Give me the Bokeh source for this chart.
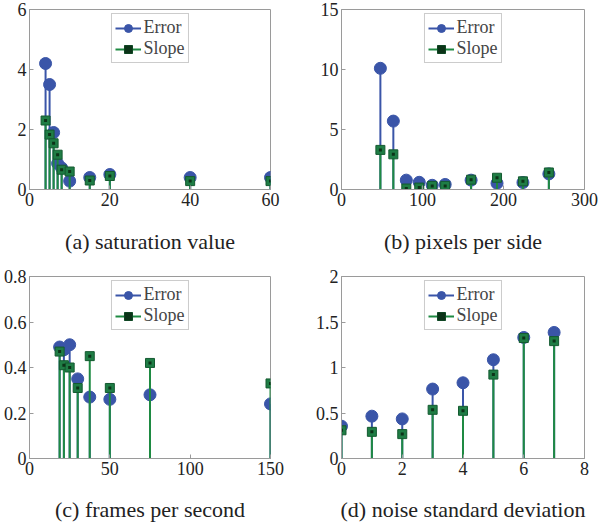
from bokeh.plotting import figure
from bokeh.layouts import gridplot
from bokeh.models import ColumnDataSource, Legend, LegendItem, FixedTicker, Range1d
from bokeh.embed import file_html
from bokeh.resources import INLINE

# ---- data ----
sat_x = [4, 5, 6, 7, 8, 10, 15, 20, 40, 60]
sat_err = [4.2, 3.5, 1.9, 0.87, 0.72, 0.28, 0.4, 0.5, 0.4, 0.4]
sat_slope = [2.3, 1.83, 1.54, 1.16, 0.66, 0.6, 0.3, 0.45, 0.28, 0.28]

pix_x = [48, 64, 80, 96, 112, 128, 160, 192, 224, 256]
pix_err = [10.1, 5.7, 0.78, 0.6, 0.35, 0.42, 0.78, 0.52, 0.58, 1.3]
pix_slope = [3.3, 2.93, 0.08, 0.16, 0.3, 0.3, 0.82, 0.98, 0.68, 1.42]

fps_x = [18.75, 21.4, 25, 30, 37.5, 50, 75, 150]
fps_err = [0.49, 0.478, 0.5, 0.35, 0.27, 0.26, 0.28, 0.24]
fps_slope = [0.47, 0.41, 0.40, 0.31, 0.45, 0.31, 0.42, 0.33]

noise_x = [0, 1, 2, 3, 4, 5, 6, 7]
noise_err = [0.355, 0.465, 0.435, 0.763, 0.832, 1.085, 1.33, 1.385]
noise_slope = [0.31, 0.293, 0.268, 0.535, 0.524, 0.922, 1.324, 1.29]

titles = ["(a) saturation value", "(b) pixels per side",
          "(c) frames per second", "(d) noise standard deviation"]

x_ticks = [[0, 20, 40, 60], [0, 100, 200, 300], [0, 50, 100, 150], [0, 2, 4, 6, 8]]
x_labels = [["0", "20", "40", "60"], ["0", "100", "200", "300"],
            ["0", "50", "100", "150"], ["0", "2", "4", "6", "8"]]
y_ticks = [[0, 2, 4, 6], [0, 5, 10, 15], [0, 0.2, 0.4, 0.6, 0.8], [0, 0.5, 1, 1.5, 2]]
y_labels = [["0", "2", "4", "6"], ["0", "5", "10", "15"],
            ["0", "0.2", "0.4", "0.6", "0.8"], ["0", "0.5", "1", "1.5", "2"]]

BLUE = "#3a55a8"
GREEN = "#1e8a42"
GREEN_FILL = "#1f7d45"
FRAME = "#9a9a9a"
FONT = "Liberation Serif"

panels = [(sat_x, sat_err, sat_slope), (pix_x, pix_err, pix_slope),
          (fps_x, fps_err, fps_slope), (noise_x, noise_err, noise_slope)]

# layout per panel: left, right, top, bottom borders, title standoff
borders = [(20, 30, 9, 73, 20), (36, 16, 9, 73, 20),
           (24, 26, 14, 66, 19), (41, 10, 14, 66, 19)]


def make(i):
    xs, err, slope = panels[i]
    bl, br, bt, bb, st = borders[i]
    p = figure(width=300, height=262, output_backend="svg", toolbar_location=None,
               min_border_left=bl, min_border_right=br, min_border_top=bt,
               min_border_bottom=bb,
               x_range=Range1d(x_ticks[i][0], x_ticks[i][-1]),
               y_range=Range1d(y_ticks[i][0], y_ticks[i][-1]))
    p.grid.visible = False
    p.outline_line_color = FRAME
    p.background_fill_color = "white"
    p.border_fill_color = "white"

    src = ColumnDataSource(dict(x=xs, err=err, slope=slope, zero=[0] * len(xs)))
    s1 = p.segment(x0="x", y0="zero", x1="x", y1="err", source=src,
                   line_color=BLUE, line_width=2)
    c1 = p.scatter(x="x", y="err", source=src, marker="circle", size=12,
                   fill_color=BLUE, line_color=BLUE)
    s2 = p.segment(x0="x", y0="zero", x1="x", y1="slope", source=src,
                   line_color=GREEN, line_width=2)
    c2 = p.scatter(x="x", y="slope", source=src, marker="square", size=9,
                   fill_color=GREEN_FILL, line_color="#145a30")
    c3 = p.scatter(x="x", y="slope", source=src, marker="square", size=3,
                   fill_color="#0c3318", line_color=None)

    for ax, ticks, labels in ((p.xaxis[0], x_ticks[i], x_labels[i]),
                              (p.yaxis[0], y_ticks[i], y_labels[i])):
        ax.ticker = FixedTicker(ticks=ticks)
        ax.major_label_overrides = {t: l for t, l in zip(ticks, labels)}
        ax.minor_tick_line_color = None
        ax.major_tick_in = 4
        ax.major_tick_out = 0
        ax.major_tick_line_color = FRAME
        ax.axis_line_color = FRAME
        ax.major_label_text_font = FONT
        ax.major_label_text_font_size = "18px"
        ax.major_label_text_color = "#222222"
        ax.major_label_standoff = 3
    p.yaxis.major_label_standoff = 3

    p.xaxis.axis_label = titles[i]
    p.xaxis.axis_label_text_font = FONT
    p.xaxis.axis_label_text_font_size = "22px"
    p.xaxis.axis_label_text_font_style = "normal"
    p.xaxis.axis_label_text_color = "#222222"
    p.xaxis.axis_label_standoff = st

    legend = Legend(items=[LegendItem(label="Error", renderers=[s1, c1]),
                           LegendItem(label="Slope", renderers=[s2, c2, c3])],
                    location="top_center", margin=4, padding=3, spacing=0,
                    label_text_font=FONT, label_text_font_size="18px",
                    label_height=20, glyph_height=20, glyph_width=26,
                    label_standoff=3, border_line_color=FRAME,
                    background_fill_color="white", background_fill_alpha=1.0)
    p.add_layout(legend, "center")
    return p


figs = [make(i) for i in range(4)]
grid = gridplot([[figs[0], figs[1]], [figs[2], figs[3]]], toolbar_location=None)

open("out.html", "w").write(file_html(grid, INLINE))
